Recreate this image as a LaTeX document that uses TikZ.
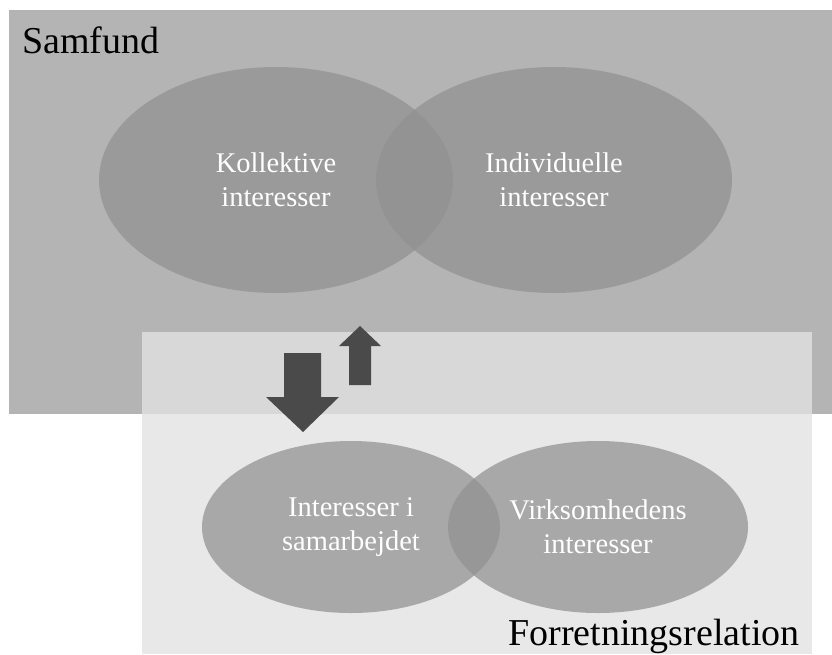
\documentclass[tikz,border=0pt]{standalone}
\usepackage{fontspec}
\setmainfont{Liberation Serif}
\usetikzlibrary{shapes.geometric}
\definecolor{outerbg}{gray}{0.706}
\definecolor{innerbg}{gray}{0.886}
\definecolor{blobfill}{gray}{0.57}
\definecolor{arrowfill}{gray}{0.29}
\tikzset{blob/.style = {ellipse, fill = blobfill, fill opacity = 0.72,
                        text = white, text opacity = 1, align = center,
                        inner sep = 0, font = \fontsize{28.5}{34}\selectfont}}
\tikzset{heading/.style = {inner sep = 0, font = \fontsize{38}{44}\selectfont}}
\tikzset{fatarrow/.style = {fill = arrowfill}}

\begin{document}
\begin{tikzpicture}[x=1pt, y=-1pt]
      \useasboundingbox (0, 0) rectangle (832, 654);
      \fill [outerbg] (9, 10) rectangle (832, 414);
      \node [heading, anchor=base west] (samfund) at (22, 53) {Samfund};

      \node [blob, minimum width=354, minimum height=226] (kollektive) at (276, 180) {Kollektive\\interesser};
      \node [blob, minimum width=356, minimum height=226] (individuelle) at (554, 180) {Individuelle\\interesser};

      \fill [innerbg, opacity=0.79] (142, 332) rectangle (812, 654);
      \node [heading, anchor=base east] (relation) at (800, 645) {Forretningsrelation};

      \node [blob, minimum width=298, minimum height=172] (samarbejde) at (351, 527) {Interesser i\\samarbejdet};
      \node [blob, minimum width=300, minimum height=172] (virksomhed) at (598, 527) {Virksomhedens\\interesser};

      \fill [fatarrow] (284, 353) -- (321, 353) -- (321, 397) -- (339, 397) -- (303, 432) -- (266, 397) -- (284, 397) -- cycle;
      \fill [fatarrow] (349, 385) -- (371, 385) -- (371, 346) -- (381, 346) -- (360, 326) -- (339, 346) -- (349, 346) -- cycle;
\end{tikzpicture}
\end{document}
